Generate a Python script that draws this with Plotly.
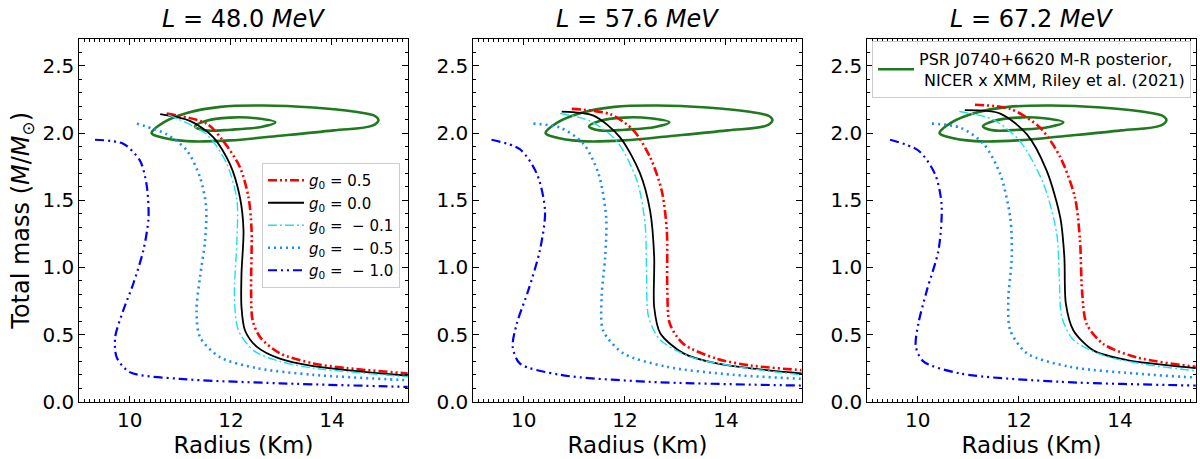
import plotly.graph_objects as go

# ---------------- data ----------------
titles = ["<i>L</i> = 48.0 <i>MeV</i>", "<i>L</i> = 57.6 <i>MeV</i>", "<i>L</i> = 67.2 <i>MeV</i>"]
g0_labels = ["<i>g</i><sub>0</sub> = 0.5", "<i>g</i><sub>0</sub> = 0.0", "<i>g</i><sub>0</sub> =  \u2212 0.1",
             "<i>g</i><sub>0</sub> =  \u2212 0.5", "<i>g</i><sub>0</sub> =  \u2212 1.0"]

# L = 48.0 MeV
R48_g05 = [10.73, 11.52, 11.85, 12.18, 12.35, 12.41, 12.40, 12.43, 12.58, 12.97, 13.63, 14.29, 15.5, 15.8]
M48_g05 = [2.145, 2.07, 1.94, 1.745, 1.52, 1.275, 0.83, 0.607, 0.48, 0.36, 0.285, 0.25, 0.21, 0.20]
R48_g00 = [10.60, 11.19, 11.65, 11.98, 12.18, 12.25, 12.21, 12.21, 12.28, 12.51, 12.97, 13.63, 15.5, 15.8]
M48_g00 = [2.14, 2.09, 1.97, 1.77, 1.52, 1.275, 0.95, 0.705, 0.53, 0.41, 0.32, 0.265, 0.193, 0.185]
R48_gm01 = [10.76, 11.52, 11.92, 12.12, 12.12, 12.07, 12.15, 12.45, 12.97, 13.63, 15.5, 15.8]
M48_gm01 = [2.135, 1.99, 1.77, 1.50, 1.20, 0.78, 0.53, 0.38, 0.30, 0.25, 0.186, 0.18]
R48_gm05 = [10.14, 10.73, 11.13, 11.39, 11.51, 11.49, 11.39, 11.32, 11.39, 11.79, 12.51, 13.63, 15.5, 15.8]
M48_gm05 = [2.07, 1.99, 1.87, 1.67, 1.45, 1.20, 0.93, 0.68, 0.48, 0.33, 0.25, 0.20, 0.16, 0.155]
R48_gm10 = [9.31, 9.87, 10.20, 10.33, 10.37, 10.27, 10.07, 9.87, 9.71, 9.74, 10.00, 10.99, 12.97, 15.5, 15.8]
M48_gm10 = [1.95, 1.92, 1.795, 1.62, 1.37, 1.13, 0.88, 0.68, 0.48, 0.33, 0.22, 0.17, 0.137, 0.11, 0.107]

# L = 57.6 MeV
R57_g05 = [10.95, 11.71, 12.17, 12.50, 12.73, 12.83, 12.84, 12.89, 13.16, 13.82, 14.48, 15.5, 15.8]
M57_g05 = [2.18, 2.14, 2.02, 1.82, 1.57, 1.275, 0.83, 0.58, 0.43, 0.32, 0.27, 0.235, 0.228]
R57_g00 = [10.75, 11.38, 11.90, 12.30, 12.50, 12.58, 12.58, 12.70, 13.16, 13.82, 15.5, 15.8]
M57_g00 = [2.16, 2.13, 1.97, 1.70, 1.42, 1.08, 0.705, 0.51, 0.36, 0.285, 0.21, 0.203]
R57_gm01 = [10.72, 11.31, 11.84, 12.24, 12.40, 12.43, 12.47, 12.70, 13.29, 14.15, 15.5, 15.8]
M57_gm01 = [2.145, 2.09, 1.94, 1.645, 1.325, 0.95, 0.63, 0.46, 0.335, 0.265, 0.20, 0.195]
R57_gm05 = [10.19, 10.72, 11.18, 11.48, 11.63, 11.61, 11.54, 11.57, 11.97, 12.83, 14.15, 15.5, 15.8]
M57_gm05 = [2.07, 2.04, 1.92, 1.695, 1.37, 1.08, 0.78, 0.53, 0.36, 0.26, 0.20, 0.17, 0.165]
R57_gm10 = [9.36, 9.92, 10.26, 10.42, 10.32, 10.09, 9.86, 9.78, 9.92, 10.72, 12.50, 15.5, 15.8]
M57_gm10 = [1.95, 1.88, 1.695, 1.42, 1.13, 0.83, 0.58, 0.41, 0.285, 0.20, 0.148, 0.12, 0.118]

# L = 67.2 MeV
R67_g05 = [11.13, 11.83, 12.42, 12.82, 13.11, 13.21, 13.25, 13.34, 13.67, 14.33, 15.5, 15.8]
M67_g05 = [2.21, 2.18, 2.04, 1.82, 1.52, 1.20, 0.83, 0.58, 0.43, 0.33, 0.26, 0.25]
R67_g00 = [10.93, 11.63, 12.16, 12.55, 12.82, 12.90, 12.93, 13.08, 13.48, 14.14, 15.5, 15.8]
M67_g00 = [2.17, 2.145, 1.99, 1.72, 1.37, 1.08, 0.73, 0.53, 0.38, 0.31, 0.25, 0.24]
R67_gm01 = [10.82, 11.49, 12.02, 12.49, 12.75, 12.80, 12.85, 13.08, 13.67, 14.47, 15.5, 15.8]
M67_gm01 = [2.16, 2.10, 1.94, 1.62, 1.25, 0.93, 0.63, 0.46, 0.345, 0.28, 0.23, 0.222]
R67_gm05 = [10.28, 10.84, 11.30, 11.63, 11.83, 11.86, 11.79, 11.83, 12.16, 13.01, 14.47, 15.5, 15.8]
M67_gm05 = [2.07, 2.04, 1.92, 1.695, 1.37, 1.08, 0.755, 0.53, 0.36, 0.26, 0.205, 0.18, 0.175]
R67_gm10 = [9.45, 10.01, 10.34, 10.47, 10.41, 10.18, 10.01, 9.96, 10.11, 10.84, 12.82, 15.5, 15.8]
M67_gm10 = [1.95, 1.87, 1.695, 1.47, 1.13, 0.83, 0.58, 0.41, 0.30, 0.21, 0.148, 0.12, 0.118]

# PSR J0740+6620 M-R posterior contours
R_outer = [10.43, 10.67, 11.13, 11.79, 12.64, 13.63, 14.43, 14.86, 14.92, 14.80, 14.03, 12.97, 11.98, 11.13, 10.60, 10.43]
M_outer = [2.00, 2.08, 2.15, 2.195, 2.205, 2.19, 2.16, 2.125, 2.095, 2.055, 2.02, 1.98, 1.945, 1.94, 1.97, 2.00]
R_inner = [11.29, 11.5, 11.98, 12.5, 12.88, 12.6, 12.0, 11.5, 11.29]
M_inner = [2.05, 2.09, 2.115, 2.11, 2.08, 2.045, 2.025, 2.02, 2.05]
psr_label = "PSR J0740+6620 M-R posterior,<br> NICER x XMM, Riley et al. (2021)"

panels = [
    [(R48_g05, M48_g05), (R48_g00, M48_g00), (R48_gm01, M48_gm01), (R48_gm05, M48_gm05), (R48_gm10, M48_gm10)],
    [(R57_g05, M57_g05), (R57_g00, M57_g00), (R57_gm01, M57_gm01), (R57_gm05, M57_gm05), (R57_gm10, M57_gm10)],
    [(R67_g05, M67_g05), (R67_g00, M67_g00), (R67_gm01, M67_gm01), (R67_gm05, M67_gm05), (R67_gm10, M67_gm10)],
]

# ---------------- styles ----------------
styles = [
    dict(color="red", width=2.6, dash="9px,3px,2px,3px,2px,3px"),
    dict(color="black", width=1.8, dash="solid"),
    dict(color="#1ee0f0", width=1.4, dash="9px,3px,2px,3px"),
    dict(color="#1a8cff", width=2.6, dash="2px,4px"),
    dict(color="blue", width=2.2, dash="9px,4px,2px,4px,2px,4px"),
]
GREEN = "#1f7a1f"
FONT = "DejaVu Sans"

fig = go.Figure()
W, H = 1200, 459
x_px = [(79.3, 407.7), (473.3, 801.7), (867.3, 1195.7)]
y_dom = [1 - 401.7 / H, 1 - 39 / H]

for p in range(3):
    xa = "x" if p == 0 else f"x{p+1}"
    ya = "y" if p == 0 else f"y{p+1}"
    for k, (rr, mm) in enumerate([(R_outer, M_outer), (R_inner, M_inner)]):
        fig.add_trace(go.Scatter(
            x=rr, y=mm, mode="lines", xaxis=xa, yaxis=ya,
            line=dict(color=GREEN, width=2.6, shape="spline", smoothing=1.0),
            name=psr_label, legend="legend2",
            showlegend=(p == 2 and k == 0), legendgroup="psr"))
    for i, (rr, mm) in enumerate(panels[p]):
        fig.add_trace(go.Scatter(
            x=rr, y=mm, mode="lines", xaxis=xa, yaxis=ya,
            line=dict(color=styles[i]["color"], width=styles[i]["width"], dash=styles[i]["dash"],
                      shape="spline", smoothing=0.8),
            name=g0_labels[i], legend="legend", showlegend=(p == 0), legendgroup=f"g{i}"))

axis_common = dict(
    showline=True, linecolor="black", linewidth=1, mirror="allticks",
    ticks="inside", ticklen=6, tickwidth=1, tickcolor="black",
    showgrid=False, zeroline=False,
    tickfont=dict(family=FONT, size=20, color="black"),
    automargin=False,
)

layout = dict(
    width=W, height=H, margin=dict(l=0, r=0, t=0, b=0),
    paper_bgcolor="white", plot_bgcolor="white",
    font=dict(family=FONT, color="black"),
    annotations=[],
)

for p in range(3):
    xk = "xaxis" if p == 0 else f"xaxis{p+1}"
    yk = "yaxis" if p == 0 else f"yaxis{p+1}"
    yanchor = "y" if p == 0 else f"y{p+1}"
    xanchor = "x" if p == 0 else f"x{p+1}"
    layout[xk] = dict(axis_common, domain=[x_px[p][0] / W, x_px[p][1] / W], range=[9, 15.5],
                      tickvals=[10, 12, 14], anchor=yanchor,
                      minor=dict(ticks="inside", ticklen=3, dtick=0.1, tick0=9, tickcolor="black", showgrid=False),
                      title=dict(text="Radius (Km)", font=dict(family=FONT, size=23), standoff=0))
    ydict = dict(axis_common, domain=y_dom, range=[0, 2.7], tickvals=[0, 0.5, 1.0, 1.5, 2.0, 2.5],
                 ticktext=["0.0", "0.5", "1.0", "1.5", "2.0", "2.5"], anchor=xanchor,
                 minor=dict(ticks="inside", ticklen=3, dtick=0.1, tick0=0, tickcolor="black", showgrid=False))
    if p == 0:
        ydict["title"] = dict(text="Total mass (<i>M</i>/<i>M</i><sub>\u2299</sub>)",
                              font=dict(family=FONT, size=24), standoff=6)
    layout[yk] = ydict
    layout["annotations"].append(dict(
        text=titles[p], x=(x_px[p][0] + x_px[p][1]) / 2 / W, y=1 - 19 / H, xref="paper", yref="paper",
        showarrow=False, font=dict(family=FONT, size=24, color="black"), xanchor="center", yanchor="middle"))

layout["legend"] = dict(x=262 / W, y=1 - 163 / H, xanchor="left", yanchor="top",
                        bgcolor="rgba(255,255,255,0.9)", bordercolor="#cccccc", borderwidth=1,
                        font=dict(family=FONT, size=15, color="black"), tracegroupgap=0,
                        itemwidth=36)
layout["legend2"] = dict(x=872 / W, y=1 - 41 / H, xanchor="left", yanchor="top",
                         bgcolor="rgba(255,255,255,0.9)", bordercolor="#cccccc", borderwidth=1,
                         font=dict(family=FONT, size=16, color="black"), itemwidth=36)

fig.update_layout(**layout)
fig.write_html("out.html", config={"displayModeBar": False},
               post_script="document.body.style.margin='0px';document.body.style.padding='0px';")
